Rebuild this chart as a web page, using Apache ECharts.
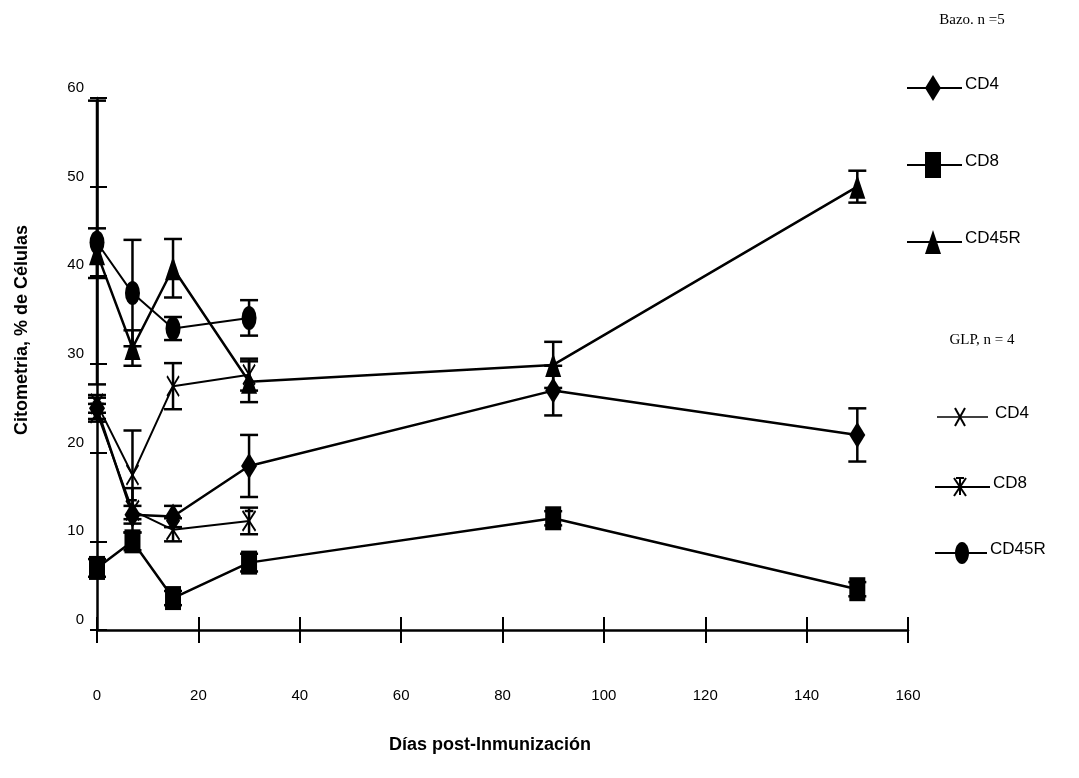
<!DOCTYPE html>
<html>
<head>
<meta charset="utf-8">
<script src="https://cdn.jsdelivr.net/npm/echarts@6/dist/echarts.min.js"></script>
<style>
  html, body { margin: 0; padding: 0; background: #fff; }
  #chart { width: 1079px; height: 778px; }
</style>
</head>
<body>
<div id="chart"></div>
<script>
// días post-inmunización
const days = [0, 7, 15, 30, 90, 150];
const glpDays = [0, 7, 15, 30];
const xTicks = [0, 20, 40, 60, 80, 100, 120, 140, 160];

// Bazo, n = 5
const bazoCD4 = [25, 13, 12.8, 18.5, 27, 22];
const bazoCD4Err = [1.2, 1, 1.2, 3.5, 2.8, 3];
const bazoCD8 = [7, 10, 3.6, 7.6, 12.6, 4.6];
const bazoCD8Err = [1, 1, 0.8, 1, 0.8, 0.8];
const bazoCD45R = [42.5, 31.8, 40.8, 28, 29.9, 50];
const bazoCD45RErr = [2.8, 2, 3.3, 2.3, 2.6, 1.8];

// GLP, n = 4
const glpCD4 = [25.5, 17.5, 27.5, 28.8];
const glpCD4Err = [1, 5, 2.6, 1.8];
const glpCD8 = [24.5, 13.5, 11.3, 12.3];
const glpCD8Err = [1, 2.5, 1.3, 1.5];
const glpCD45R = [43.7, 38, 34, 35.2];
const glpCD45RErr = [16, 6, 1.3, 2];

const symX = 'path://M0,0L10,18M10,0L0,18';
const symStar = 'path://M0,0L12,18M12,0L0,18M6,2L6,16M2,0L10,0';
const symEllipse = 'path://M5,0A5,8 0 1,1 5,16A5,8 0 1,1 5,0Z';

function lineSeries(name, xs, ys, symbol, size, width, stroke) {
  return {
    name: name,
    type: 'line',
    data: xs.map((x, i) => [x, ys[i]]),
    symbol: symbol,
    symbolSize: size,
    showSymbol: true,
    z: 3,
    lineStyle: { color: '#000', width: width },
    itemStyle: {
      color: '#000',
      borderColor: '#000',
      borderWidth: stroke ? 2 : 0
    },
    emphasis: { disabled: true },
    animation: false
  };
}

function errSeries(xs, ys, errs) {
  return {
    type: 'custom',
    z: 2,
    silent: true,
    animation: false,
    data: xs.map((x, i) => [x, ys[i], errs[i]]),
    encode: { x: 0, y: 1 },
    renderItem: function (params, api) {
      const x = api.value(0), y = api.value(1), e = api.value(2);
      const top = api.coord([x, y + e]);
      const bot = api.coord([x, y - e]);
      const w = 9;
      const st = { stroke: '#000', lineWidth: 2.5 };
      return {
        type: 'group',
        children: [
          { type: 'line', shape: { x1: top[0], y1: top[1], x2: bot[0], y2: bot[1] }, style: st },
          { type: 'line', shape: { x1: top[0] - w, y1: top[1], x2: top[0] + w, y2: top[1] }, style: st },
          { type: 'line', shape: { x1: bot[0] - w, y1: bot[1], x2: bot[0] + w, y2: bot[1] }, style: st }
        ]
      };
    }
  };
}

// leyenda dibujada a mano (marcadores más altos que anchos, como en el original)
function marker(kind, cx, cy) {
  const fill = { fill: '#000' };
  const stroke = { stroke: '#000', lineWidth: 2, fill: null };
  switch (kind) {
    case 'diamond':
      return [{ type: 'polygon', shape: { points: [[cx, cy - 13], [cx + 8, cy], [cx, cy + 13], [cx - 8, cy]] }, style: fill }];
    case 'rect':
      return [{ type: 'rect', shape: { x: cx - 8, y: cy - 13, width: 16, height: 26 }, style: fill }];
    case 'triangle':
      return [{ type: 'polygon', shape: { points: [[cx, cy - 12], [cx + 8, cy + 12], [cx - 8, cy + 12]] }, style: fill }];
    case 'x':
      return [
        { type: 'line', shape: { x1: cx - 5, y1: cy - 9, x2: cx + 5, y2: cy + 9 }, style: stroke },
        { type: 'line', shape: { x1: cx + 5, y1: cy - 9, x2: cx - 5, y2: cy + 9 }, style: stroke }
      ];
    case 'star':
      return [
        { type: 'line', shape: { x1: cx - 6, y1: cy - 9, x2: cx + 6, y2: cy + 9 }, style: stroke },
        { type: 'line', shape: { x1: cx + 6, y1: cy - 9, x2: cx - 6, y2: cy + 9 }, style: stroke },
        { type: 'line', shape: { x1: cx, y1: cy - 8, x2: cx, y2: cy + 8 }, style: stroke },
        { type: 'line', shape: { x1: cx - 4, y1: cy - 9, x2: cx + 4, y2: cy - 9 }, style: stroke }
      ];
    default:
      return [{ type: 'ellipse', shape: { cx: cx, cy: cy, rx: 7, ry: 11 }, style: fill }];
  }
}

function legendRow(label, kind, x0, x1, xm, y, tx, lw) {
  return [
    { type: 'line', shape: { x1: x0, y1: y, x2: x1, y2: y }, style: { stroke: '#000', lineWidth: lw } },
    ...marker(kind, xm, y),
    {
      type: 'text', x: tx, y: y - 4,
      style: { text: label, fill: '#000', font: '17px "Liberation Sans"', textVerticalAlign: 'middle' }
    }
  ];
}

const chart = echarts.init(document.getElementById('chart'));

const labelFont = { color: '#000', fontSize: 15, fontFamily: 'Liberation Sans' };
const headFont = '15px "Liberation Serif"';

const option = {
  backgroundColor: '#fff',
  animation: false,
  grid: { left: 97, right: 171, top: 98, bottom: 148, containLabel: false },
  graphic: [
    {
      type: 'text', x: 22, y: 330, rotation: Math.PI / 2,
      style: {
        text: 'Citometria, % de Células', fill: '#000',
        font: 'bold 18px "Liberation Sans"', textAlign: 'center', textVerticalAlign: 'middle'
      }
    },
    {
      type: 'text', x: 490, y: 745,
      style: {
        text: 'Días post-Inmunización', fill: '#000',
        font: 'bold 18px "Liberation Sans"', textAlign: 'center', textVerticalAlign: 'middle'
      }
    },
    { type: 'text', x: 972, y: 20, style: { text: 'Bazo. n =5', fill: '#000', font: headFont, textAlign: 'center', textVerticalAlign: 'middle' } },
    { type: 'text', x: 982, y: 340, style: { text: 'GLP, n = 4', fill: '#000', font: headFont, textAlign: 'center', textVerticalAlign: 'middle' } },
    ...legendRow('CD4', 'diamond', 907, 962, 933, 88, 965, 2),
    ...legendRow('CD8', 'rect', 907, 962, 933, 165, 965, 2),
    ...legendRow('CD45R', 'triangle', 907, 962, 933, 242, 965, 2),
    ...legendRow('CD4', 'x', 937, 988, 960, 417, 995, 1.5),
    ...legendRow('CD8', 'star', 935, 990, 960, 487, 993, 2),
    ...legendRow('CD45R', 'ellipse', 935, 987, 962, 553, 990, 2)
  ],
  xAxis: [
    {
      type: 'value', min: 0, max: 160, interval: 20,
      axisLine: { lineStyle: { color: '#000', width: 2.5 } },
      axisTick: { inside: true, length: 13, lineStyle: { color: '#000', width: 2 } },
      axisLabel: Object.assign({ margin: 58, formatter: v => xTicks.includes(v) ? String(v) : '' }, labelFont),
      splitLine: { show: false }
    },
    {
      type: 'value', position: 'bottom', min: 0, max: 160, interval: 20,
      axisLine: { show: false },
      axisTick: { inside: false, length: 13, lineStyle: { color: '#000', width: 2 } },
      axisLabel: { show: false },
      splitLine: { show: false }
    }
  ],
  yAxis: [
    {
      type: 'value', min: 0, max: 60, interval: 10,
      axisLine: { show: true, lineStyle: { color: '#000', width: 2.5 } },
      axisTick: { show: true, inside: true, length: 10, lineStyle: { color: '#000', width: 2 } },
      axisLabel: Object.assign({ margin: 13, verticalAlign: 'bottom', lineHeight: 20 }, labelFont),
      splitLine: { show: false }
    },
    {
      type: 'value', position: 'left', min: 0, max: 60, interval: 10,
      axisLine: { show: false },
      axisTick: { show: true, inside: false, length: 7, lineStyle: { color: '#000', width: 2 } },
      axisLabel: { show: false },
      splitLine: { show: false }
    }
  ],
  series: [
    errSeries(days, bazoCD4, bazoCD4Err),
    errSeries(days, bazoCD8, bazoCD8Err),
    errSeries(days, bazoCD45R, bazoCD45RErr),
    errSeries(glpDays, glpCD4, glpCD4Err),
    errSeries(glpDays, glpCD8, glpCD8Err),
    errSeries(glpDays, glpCD45R, glpCD45RErr),
    lineSeries('Bazo CD4', days, bazoCD4, 'diamond', [16, 26], 2.5, false),
    lineSeries('Bazo CD8', days, bazoCD8, 'rect', [16, 24], 2.5, false),
    lineSeries('Bazo CD45R', days, bazoCD45R, 'triangle', [16, 24], 2.5, false),
    lineSeries('GLP CD4', glpDays, glpCD4, symX, [12, 20], 2, true),
    lineSeries('GLP CD8', glpDays, glpCD8, symStar, [13, 20], 2, true),
    lineSeries('GLP CD45R', glpDays, glpCD45R, symEllipse, [15, 24], 2, false)
  ]
};

option && chart.setOption(option);
</script>
</body>
</html>
